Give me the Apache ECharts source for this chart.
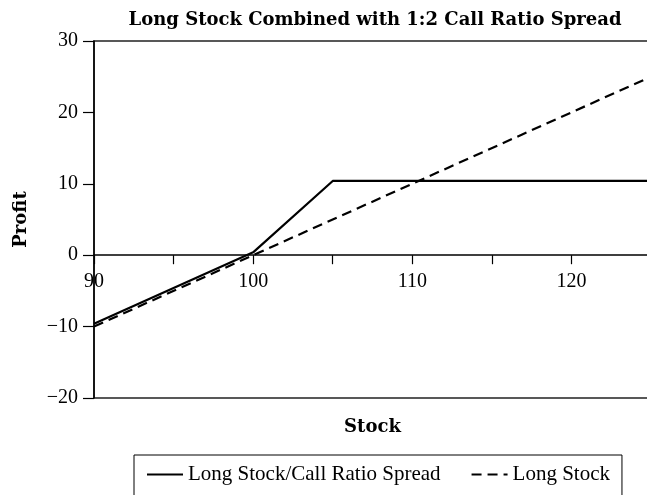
<!DOCTYPE html>
<html>
<head>
<meta charset="utf-8">
<script src="https://cdn.jsdelivr.net/npm/echarts@6/dist/echarts.min.js"></script>
<style>
    html, body { margin: 0; padding: 0; background: #fff; }
    #chart { width: 647px; height: 495px; }
</style>
</head>
<body>
<div id="chart"></div>
<script>
// stock price / profit pairs
var ratioSpreadX = [90, 100, 105, 125];
var ratioSpreadY = [-9.6, 0.4, 10.4, 10.4];
var longStockX = [90, 125];
var longStockY = [-10, 25];
var seriesNames = ["Long Stock/Call Ratio Spread", "Long Stock"];

function pairs(xs, ys) {
    return xs.map(function (x, i) { return [x, ys[i]]; });
}

var chart = echarts.init(document.getElementById("chart"));
var option = {
    animation: false,
    backgroundColor: "#fff",
    title: {
        text: "Long Stock Combined with 1:2 Call Ratio Spread",
        left: 370,
        textAlign: "center",
        top: 6,
        textStyle: { fontFamily: "DejaVu Serif", fontWeight: "bold", fontSize: 18, color: "#000" }
    },
    legend: {
        data: seriesNames,
        left: 134,
        top: 455,
        padding: [9, 12, 30, 12],
        itemGap: 30,
        itemWidth: 36,
        itemHeight: 14,
        itemStyle: { opacity: 0 },
        borderColor: "#000",
        borderWidth: 1,
        borderRadius: 0,
        textStyle: { fontFamily: "Liberation Serif", fontSize: 21, color: "#000" }
    },
    grid: {
        left: 94,
        right: -4,
        top: 41,
        bottom: 97,
        outerBoundsMode: "none",
        containLabel: false,
        show: true,
        borderColor: "#222",
        borderWidth: 1.5
    },
    xAxis: {
        type: "value",
        min: 90,
        max: 125,
        interval: 5,
        position: "bottom",
        offset: -142.8,
        name: "Stock",
        nameLocation: "middle",
        nameGap: 163,
        nameTextStyle: { fontFamily: "DejaVu Serif", fontWeight: "bold", fontSize: 18, color: "#000" },
        axisLine: { onZero: false, lineStyle: { color: "#000", width: 1.5 } },
        axisTick: { length: 9, lineStyle: { color: "#000", width: 1.2 } },
        axisLabel: {
            margin: 17,
            fontFamily: "Liberation Serif",
            fontSize: 20,
            color: "#000",
            formatter: function (v) { return (v % 10 === 0 && v < 125) ? String(v) : ""; }
        },
        splitLine: { show: false }
    },
    yAxis: {
        type: "value",
        min: -20,
        max: 30,
        interval: 10,
        name: "Profit",
        nameLocation: "middle",
        nameGap: 64,
        nameRotate: 90,
        nameTextStyle: { fontFamily: "DejaVu Serif", fontWeight: "bold", fontSize: 18, color: "#000" },
        axisLine: { onZero: false, lineStyle: { color: "#000", width: 1.5 } },
        axisTick: { length: 11, lineStyle: { color: "#000", width: 1.2 } },
        axisLabel: {
            margin: 16,
            fontFamily: "Liberation Serif",
            fontSize: 20,
            color: "#000",
            formatter: function (v) { return v < 0 ? "\u2212" + Math.abs(v) : String(v); }
        },
        splitLine: { show: false }
    },
    series: [{
        name: seriesNames[0],
        type: "line",
        data: pairs(ratioSpreadX, ratioSpreadY),
        symbol: "none",
        lineStyle: { color: "#000", width: 2.2, type: "solid" },
        itemStyle: { color: "#000" }
    }, {
        name: seriesNames[1],
        type: "line",
        data: pairs(longStockX, longStockY),
        symbol: "none",
        lineStyle: { color: "#000", width: 2.2, type: [10, 6] },
        itemStyle: { color: "#000" }
    }]
};
chart.setOption(option);
</script>
</body>
</html>
